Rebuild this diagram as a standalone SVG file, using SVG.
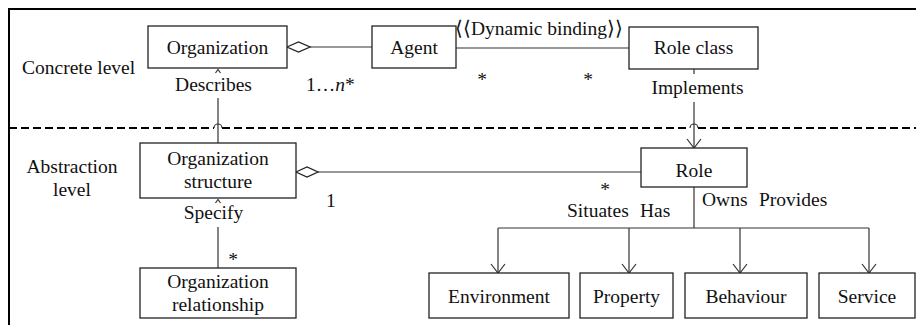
<svg xmlns="http://www.w3.org/2000/svg" width="916" height="325" viewBox="0 0 916 325">
  <defs>
    <style>
      text { font-family: "Liberation Serif", "Times New Roman", serif; font-size: 19.5px; fill: #111; }
      .mid { text-anchor: middle; }
      .box { fill: #fff; stroke: #222; stroke-width: 1.3; }
      .line { fill: none; stroke: #333; stroke-width: 1.2; }
      .frame { fill: none; stroke: #000; stroke-width: 2; }
      .dash { fill: none; stroke: #000; stroke-width: 2; stroke-dasharray: 8 4; }
      .diamond { fill: #fff; stroke: #222; stroke-width: 1.3; }
    </style>
  </defs>

  <rect width="916" height="325" fill="#fff"/>

  <!-- frame and level separator -->
  <g id="frame">
    <path class="frame" d="M9,325 V9 H916"/>
    <path class="dash" d="M9,128 H214"/>
    <path class="dash" d="M222,128 H690"/>
    <path class="dash" d="M698,128 H916"/>
    <path class="line" stroke-width="2" d="M214,128 A4,4 0 0 1 222,128"/>
    <path class="line" stroke-width="2" d="M690,128 A4,4 0 0 1 698,128"/>
    <text x="22" y="74">Concrete level</text>
    <text class="mid" x="72" y="173">Abstraction</text>
    <text class="mid" x="72" y="196">level</text>
  </g>

  <!-- connectors -->
  <g id="connectors">
    <!-- Organization <>— Agent -->
    <polygon class="diamond" points="287,47 298.5,42 310,47 298.5,52"/>
    <path class="line" d="M310,47 H372"/>
    <text x="306" y="91">1…<tspan font-style="italic">n</tspan>*</text>
    <!-- Agent — Role class -->
    <path class="line" d="M456,48 H629"/>
    <text x="455" y="35">⟨⟨Dynamic binding⟩⟩</text>
    <text class="mid" x="482" y="86">*</text>
    <text class="mid" x="588" y="86">*</text>
    <!-- Describes -->
    <path class="line" d="M218,143 V98"/>
    <polyline class="line" points="215.5,73 218,69.5 220.5,73"/>
    <text class="mid" x="213.5" y="91">Describes</text>
    <!-- Implements -->
    <path class="line" d="M694,69 V74 M694,102 V148"/>
    <polyline class="line" points="687,139 694,148 701,139"/>
    <text class="mid" x="697.5" y="94">Implements</text>
    <!-- Organization structure <>— Role -->
    <polygon class="diamond" points="296,172 307,167 318,172 307,177"/>
    <path class="line" d="M318,172 H641"/>
    <text x="326" y="207">1</text>
    <!-- Specify -->
    <path class="line" d="M218,268 V227"/>
    <polyline class="line" points="215.5,203 218,199.5 220.5,203"/>
    <text class="mid" x="213.5" y="219">Specify</text>
    <text class="mid" x="233" y="266">*</text>
    <!-- Role tree -->
    <path class="line" d="M694,187 V228 M498,228 H869 M498,228 V273 M629,228 V273 M740,228 V273 M869,228 V273"/>
    <polyline class="line" points="491,264 498,273 505,264"/>
    <polyline class="line" points="622,264 629,273 636,264"/>
    <polyline class="line" points="733,264 740,273 747,264"/>
    <polyline class="line" points="862,264 869,273 876,264"/>
    <text class="mid" x="605" y="195.5" font-size="16px">*</text>
    <text x="567" y="217">Situates</text>
    <text x="640" y="217">Has</text>
    <text x="702" y="206">Owns</text>
    <text x="759" y="206">Provides</text>
  </g>

  <!-- nodes -->
  <g id="organization">
    <rect class="box" x="148" y="26" width="139" height="42"/>
    <text class="mid" x="217.5" y="54">Organization</text>
  </g>
  <g id="agent">
    <rect class="box" x="372" y="26" width="84" height="42"/>
    <text class="mid" x="414" y="54">Agent</text>
  </g>
  <g id="role-class">
    <rect class="box" x="629" y="27" width="129" height="42"/>
    <text class="mid" x="693.5" y="54">Role class</text>
  </g>
  <g id="organization-structure">
    <rect class="box" x="140" y="143" width="156" height="55"/>
    <text class="mid" x="218" y="165">Organization</text>
    <text class="mid" x="218" y="188">structure</text>
  </g>
  <g id="role">
    <rect class="box" x="641" y="148" width="106" height="39"/>
    <text class="mid" x="694" y="177">Role</text>
  </g>
  <g id="organization-relationship">
    <rect class="box" x="140" y="268" width="156" height="50"/>
    <text class="mid" x="218" y="288">Organization</text>
    <text class="mid" x="218" y="311">relationship</text>
  </g>
  <g id="environment">
    <rect class="box" x="429" y="273" width="140" height="45"/>
    <text class="mid" x="499" y="303">Environment</text>
  </g>
  <g id="property">
    <rect class="box" x="580" y="273" width="93" height="45"/>
    <text class="mid" x="626.5" y="303">Property</text>
  </g>
  <g id="behaviour">
    <rect class="box" x="685" y="273" width="122" height="45"/>
    <text class="mid" x="746" y="303">Behaviour</text>
  </g>
  <g id="service">
    <rect class="box" x="819" y="273" width="96" height="45"/>
    <text class="mid" x="867" y="303">Service</text>
  </g>
</svg>
